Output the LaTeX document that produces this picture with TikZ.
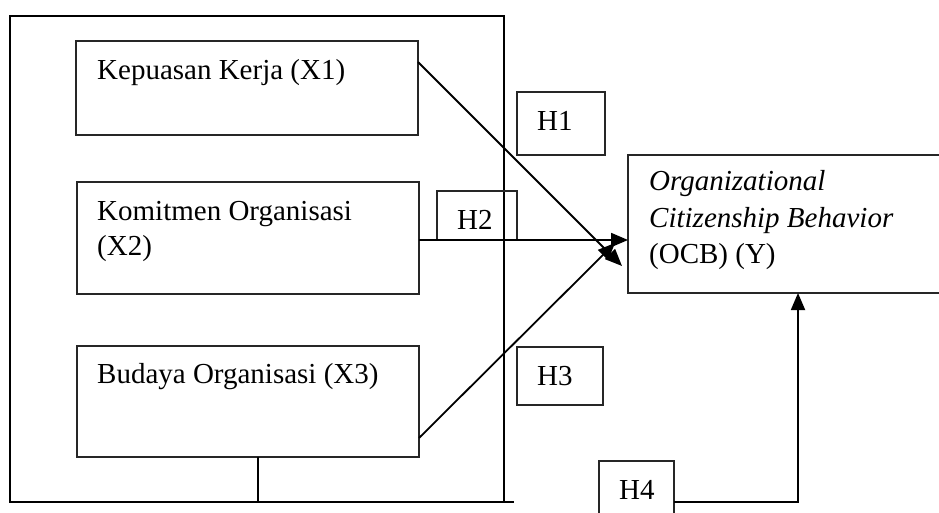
\documentclass[tikz,border=0pt]{standalone}
\usepackage{fontspec}
\setmainfont{Liberation Serif}
\usetikzlibrary{arrows.meta}
\begin{document}
\begin{tikzpicture}[x=1pt,y=-1pt,
  boxline/.style={draw=black!85,line width=1.1pt},
  frame/.style={draw=black,line width=1.8pt},
  conn/.style={draw=black,line width=1.8pt},
  arr/.style={conn,-{Triangle[length=17pt,width=14pt]}},
  txt/.style={anchor=base west,inner sep=0pt,font=\fontsize{29}{35.5}\selectfont},
  ]
\clip (0,0) rectangle (939,513);
\fill[white] (0,0) rectangle (939,513);
% outer frame
\coordinate (fNW) at (10,16);
\coordinate (fSE) at (504,502);
\draw[frame] (fNW) rectangle (fSE);
\coordinate (fEnd) at (514,502);
\draw[frame] (fSE) -- (fEnd);
% boxes
\path[boxline] (76,41) rectangle (418,135);
\coordinate (b1) at (418,62);
\path[boxline] (77,182) rectangle (419,294);
\coordinate (b2) at (419,240);
\path[boxline] (77,346) rectangle (419,457);
\coordinate (b3) at (419,438);
\coordinate (b3s) at (258,457);
\coordinate (b3b) at (258,502);
\node[txt] (t1) at (97,80) {Kepuasan Kerja (X1)};
\node[txt] (t2a) at (97,220) {Komitmen Organisasi};
\node[txt] (t2b) at (97,255) {(X2)};
\node[txt] (t3) at (97,383) {Budaya Organisasi (X3)};
% OCB
\path[boxline] (950,155) -- (628,155) -- (628,293) -- (950,293);
\node[txt] (ya) at (649,190) {\itshape Organizational};
\node[txt] (yb) at (649,227) {\itshape Citizenship Behavior};
\node[txt] (yc) at (649,263) {(OCB) (Y)};
\coordinate (yW) at (628,240);
\coordinate (yS) at (798,293);
% hypothesis boxes
\path[boxline] (517,92) rectangle (605,155);
\node[txt] (h1) at (537,131) {H1};
\path[boxline] (437,191) rectangle (517,240);
\node[txt] (h2) at (457,229) {H2};
\path[boxline] (517,347) rectangle (603,405);
\node[txt] (h3) at (537,385) {H3};
\path[boxline] (599,461) rectangle (674,525);
\node[txt] (h4) at (619,499) {H4};
\coordinate (h4E) at (674,502);
\coordinate (c4) at (798,502);
% connectors
\draw[arr] (b1) -- (622,266);
\draw[arr] (b2) -- (yW);
\draw[arr] (b3) -- (615,243);
\draw[conn] (b3s) -- (b3b);
\draw[arr] (h4E) -- (c4) -- (yS);
\end{tikzpicture}
\end{document}
